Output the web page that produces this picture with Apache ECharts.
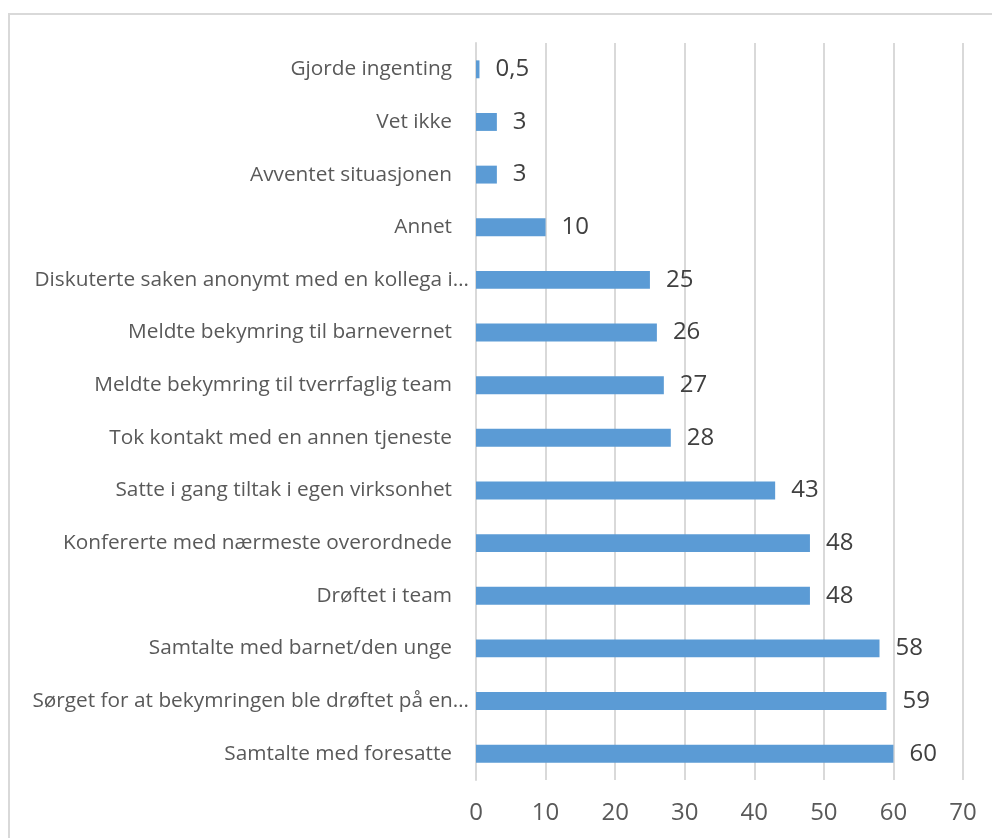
<!DOCTYPE html>
<html>
<head>
<meta charset="utf-8">
<script src="https://cdn.jsdelivr.net/npm/echarts@6/dist/echarts.min.js"></script>
<style>
  html, body { margin: 0; padding: 0; background: #fff; }
  #chart { width: 992px; height: 838px; }
</style>
</head>
<body>
<div id="chart"></div>
<script>
// Tiltak, listed top to bottom
const categories = [
  'Gjorde ingenting',
  'Vet ikke',
  'Avventet situasjonen',
  'Annet',
  'Diskuterte saken anonymt med en kollega i…',
  'Meldte bekymring til barnevernet',
  'Meldte bekymring til tverrfaglig team',
  'Tok kontakt med en annen tjeneste',
  'Satte i gang tiltak i egen virksonhet',
  'Konfererte med nærmeste overordnede',
  'Drøftet i team',
  'Samtalte med barnet/den unge',
  'Sørget for at bekymringen ble drøftet på en…',
  'Samtalte med foresatte'
];
const values = [0.5, 3, 3, 10, 25, 26, 27, 28, 43, 48, 48, 58, 59, 60];
const axisMin = 0;
const axisMax = 70;
const axisStep = 10;

const textFont = '"Open Sans", sans-serif';
const catSize = 20.8;
const chart = echarts.init(document.getElementById('chart'), null, { renderer: 'canvas' });

chart.setOption({
  animation: false,
  backgroundColor: '#ffffff',
  graphic: [{
    type: 'rect',
    shape: { x: 9, y: 14, width: 1100, height: 1000 },
    style: { fill: 'none', stroke: '#d9d9d9', lineWidth: 2 },
    silent: true
  }],
  grid: { left: 476, right: 29, top: 43, bottom: 58, containLabel: false },
  xAxis: {
    type: 'value',
    min: axisMin,
    max: axisMax,
    interval: axisStep,
    axisLine: { show: false },
    axisTick: { show: false },
    splitLine: { show: true, lineStyle: { color: '#d9d9d9', width: 2 } },
    axisLabel: {
      color: '#595959',
      fontFamily: textFont,
      fontSize: 24,
      margin: 21
    }
  },
  yAxis: {
    type: 'category',
    data: categories,
    inverse: true,
    axisLine: { show: true, lineStyle: { color: '#d9d9d9', width: 2 } },
    axisTick: { show: false },
    axisLabel: {
      color: '#595959',
      fontFamily: textFont,
      fontSize: catSize,
      margin: 7,
      // truncated labels let their ellipsis run past the normal right edge
      formatter: v => v.endsWith('…') ? '{e|' + v + '}' : '{n|' + v + '}',
      rich: {
        n: { color: '#595959', fontFamily: textFont, fontSize: catSize, padding: [0, 17, 0, 0] },
        e: { color: '#595959', fontFamily: textFont, fontSize: catSize }
      }
    }
  },
  series: [{
    type: 'bar',
    data: values,
    barWidth: '34%',
    itemStyle: { color: '#5b9bd5' },
    label: {
      show: true,
      position: 'right',
      distance: 16,
      color: '#404040',
      fontFamily: textFont,
      fontSize: 24,
      formatter: p => String(p.value).replace('.', ',')
    }
  }]
});
</script>
</body>
</html>
